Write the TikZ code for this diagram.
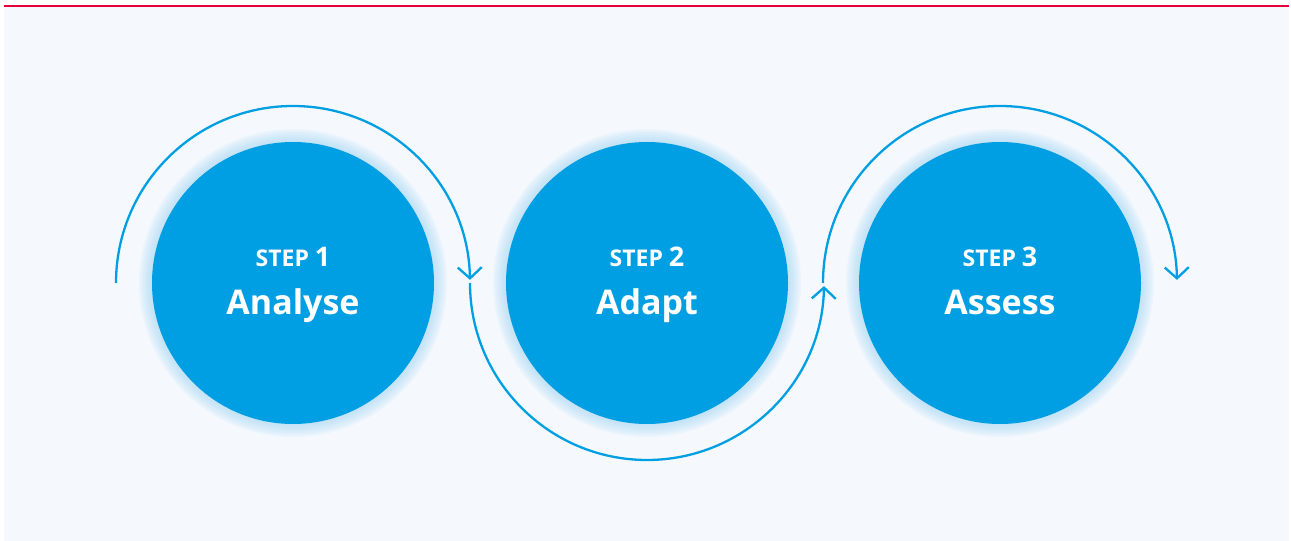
\documentclass[tikz,border=0pt]{standalone}
\usepackage{fontspec}
\setmainfont{Open Sans}
\usetikzlibrary{arrows.meta}
\definecolor{stepblue}{HTML}{009FE3}
\definecolor{glowblue}{HTML}{A8DAF5}
\definecolor{pagebg}{HTML}{F5F9FE}
\definecolor{topred}{HTML}{E4003A}
\newcommand{\steptext}[2]{\rule{0pt}{32pt}{\fontsize{23}{48}\selectfont STEP {\fontsize{27}{48}\selectfont #1}}\\#2\rule[-16pt]{0pt}{16pt}}

\begin{document}
\begin{tikzpicture}[x=1pt,y=1pt,
	stepcircle/.style={circle,fill=stepblue,minimum size=282pt,inner sep=0pt,text=white,align=center,font=\bfseries\fontsize{34}{48}\selectfont},
	steparc/.style={draw=stepblue,line width=2.3pt,-{Straight Barb[length=11pt,width=24pt,line width=2.3pt]}}]
	\useasboundingbox (0,0) rectangle (1291,541);
	\fill[pagebg] (4,0) rectangle (1289,535);
	\draw[topred,line width=1.5pt] (4,535) -- (1289,535);
	% centres of the three steps
	\coordinate (c1) at (293,258);
	\coordinate (c2) at (647,258);
	\coordinate (c3) at (1000,258);
	% soft glow
	\foreach \c in {c1,c2,c3}
		\foreach \r in {13,11,...,1}
			\fill[glowblue,opacity=0.13] (\c) circle (141+\r);
	\node[stepcircle] (analyse) at (c1) {\steptext{1}{Analyse}};
	\node[stepcircle] (adapt) at (c2) {\steptext{2}{Adapt}};
	\node[stepcircle] (assess) at (c3) {\steptext{3}{Assess}};
	% arcs round the circles
	\draw[steparc] (analyse.center) ++(180:177) arc[start angle=180,end angle=1,radius=177];
	\draw[steparc] (adapt.center) ++(180:177) arc[start angle=180,end angle=359,radius=177];
	\draw[steparc] (assess.center) ++(180:177) arc[start angle=180,end angle=1,radius=177];
\end{tikzpicture}
\end{document}
